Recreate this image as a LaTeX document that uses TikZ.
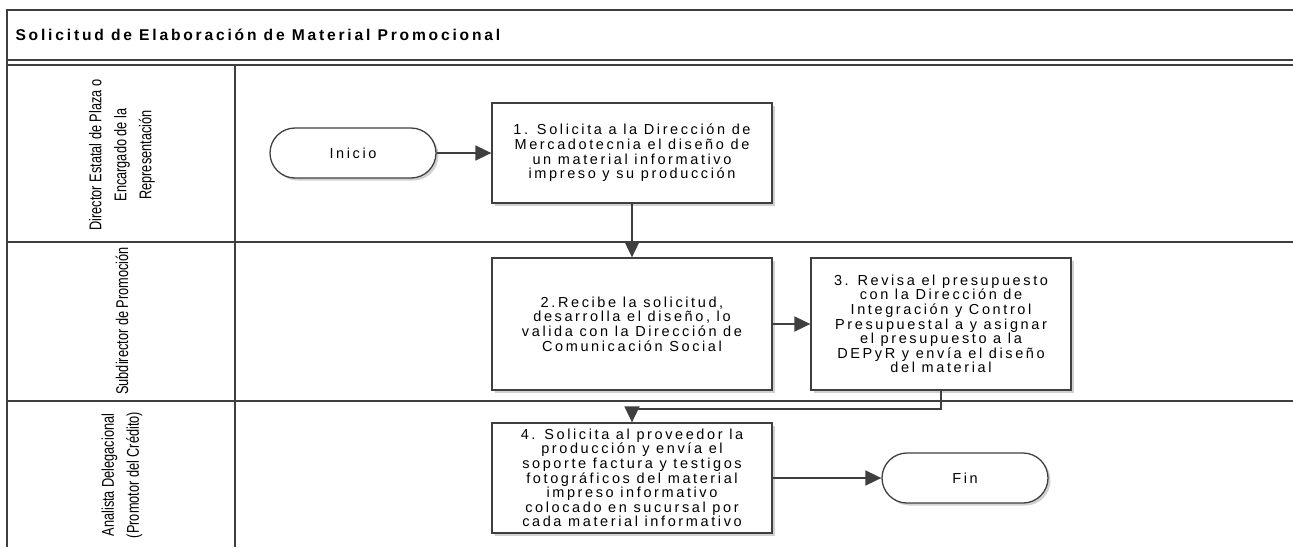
\documentclass[tikz,border=0pt]{standalone}
\usepackage{fontspec}
\setmainfont{Liberation Sans}[LetterSpace=18]
\newfontfamily\lanefont{Liberation Sans}[FakeStretch=0.75]
\usetikzlibrary{arrows.meta,positioning,shapes.misc,shadows}
\definecolor{linea}{HTML}{3F3F3F}

\begin{document}
\begin{tikzpicture}[x=1pt,y=-1pt,
  marco/.style={draw=linea, line width=1.8pt},
  sombra/.style={drop shadow={shadow xshift=2.5pt, shadow yshift=-2.5pt, fill=black!18, opacity=1}},
  paso/.style={draw=linea, line width=1.3pt, fill=white, sombra, align=center, inner sep=0pt,
    font=\fontsize{14.5}{14.6}\selectfont},
  terminal/.style={rounded rectangle, draw=linea, line width=1.3pt, fill=white, sombra,
    minimum width=166pt, minimum height=50pt, inner sep=0pt, font=\fontsize{14.5}{15}\selectfont},
  flujo/.style={draw=linea, line width=1.8pt, -{Triangle[length=16pt,width=15pt]}},
  carril/.style={rotate=90, align=center, font=\lanefont\fontsize{17}{25}\selectfont}]
  \useasboundingbox (0,0) rectangle (1293,547);
  % marco y carriles
  \draw[marco] (1293,10) -- (7,10) -- (7,547);
  \draw[marco] (7,60) -- (1293,60);
  \draw[marco] (7,65) -- (1293,65);
  \draw[marco] (7,242) -- (1293,242);
  \draw[marco] (7,401) -- (1293,401);
  \draw[marco] (235,65) -- (235,547);
  \node[anchor=west, font=\bfseries\fontsize{15.6}{16}\selectfont] (titulo) at (12,35)
    {Solicitud de Elaboración de Material Promocional};
  \node[carril] (rol1) at (122,155) {Director Estatal de Plaza o\\Encargado de la\\Representación};
  \node[carril] (rol2) at (122,321) {Subdirector de Promoción};
  \node[carril] (rol3) at (122,475) {Analista Delegacional\\(Promotor del Crédito)};
  % actividades
  \node[terminal] (inicio) at (353,153) {Inicio};
  \node[paso, minimum width=280pt, minimum height=100pt] (p1) at (632,153)
    {1. Solicita a la Dirección de\\Mercadotecnia el diseño de\\un material informativo\\impreso y su producción};
  \node[paso, minimum width=280pt, minimum height=132pt] (p2) at (632,324)
    {2.Recibe la solicitud,\\desarrolla el diseño, lo\\valida con la Dirección de\\Comunicación Social};
  \node[paso, minimum width=260pt, minimum height=132pt] (p3) at (941,324)
    {3. Revisa el presupuesto\\con la Dirección de\\Integración y Control\\Presupuestal a y asignar\\el presupuesto a la\\DEPyR y envía el diseño\\del material};
  \node[paso, minimum width=280pt, minimum height=110pt] (p4) at (632,478)
    {4. Solicita al proveedor la\\producción y envía el\\soporte factura y testigos\\fotográficos del material\\impreso informativo\\colocado en sucursal por\\cada material informativo};
  \node[terminal] (fin) at (965,478) {Fin};
  % conectores
  \draw[flujo] (inicio) -- (p1);
  \draw[flujo] (p1) -- (p2);
  \draw[flujo] (p2) -- (p3);
  \draw[flujo] (p3.south) -- ++(0,18) -| (p4.north);
  \draw[flujo] (p4) -- (fin);
\end{tikzpicture}
\end{document}
